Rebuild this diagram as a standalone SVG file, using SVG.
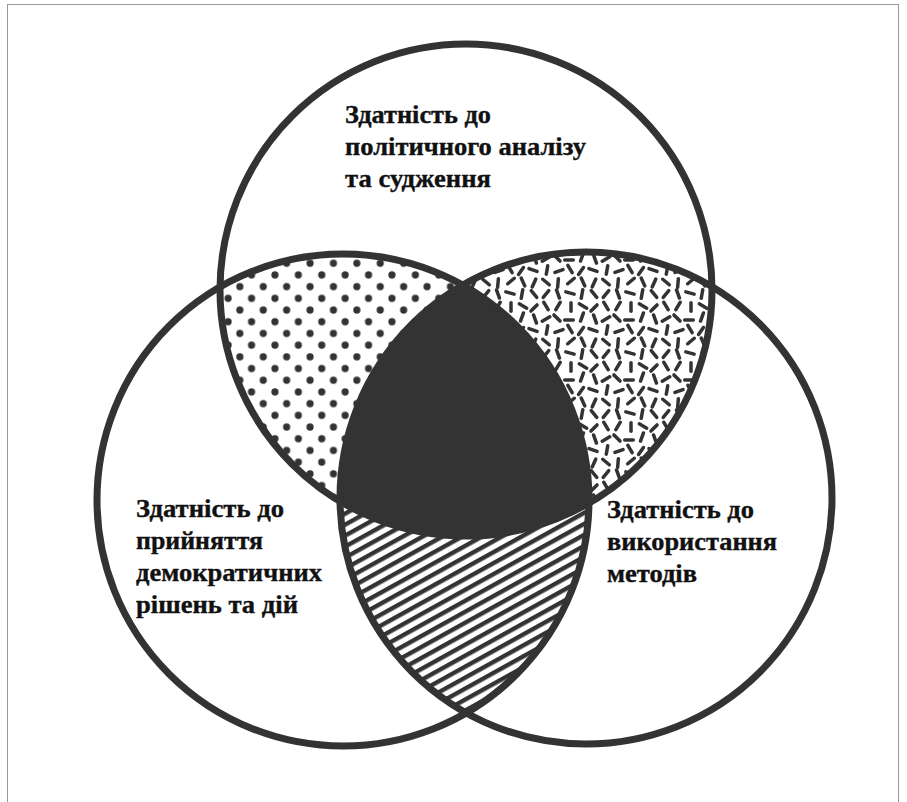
<svg xmlns="http://www.w3.org/2000/svg" xmlns:xlink="http://www.w3.org/1999/xlink" width="907" height="802" viewBox="0 0 907 802">
<style>
.ring{fill:none;stroke:#333;stroke-width:7}
.lbl{font-family:"Liberation Serif","DejaVu Serif",serif;font-weight:bold;font-size:24.5px;fill:#111;stroke:#111;stroke-width:0.35}
.dash{stroke:#333;stroke-width:3.5;stroke-linecap:round;fill:none}
</style>
<defs>
<clipPath id="cTop"><circle cx="466" cy="290" r="246"/></clipPath>
<clipPath id="cLeft"><circle cx="343" cy="500" r="246"/></clipPath>
<clipPath id="cRight"><circle cx="586" cy="498" r="246"/></clipPath>
<pattern id="dots" patternUnits="userSpaceOnUse" width="23.4" height="23.4">
<rect width="23.4" height="23.4" fill="#fff"/>
<circle cx="5.85" cy="5.85" r="3.6" fill="#333"/>
<circle cx="17.55" cy="17.55" r="3.6" fill="#333"/>
</pattern>
<pattern id="hatch" patternUnits="userSpaceOnUse" width="10" height="9.6" patternTransform="rotate(-29)">
<rect width="10" height="9.6" fill="#fff"/>
<rect width="10" height="4.4" fill="#333"/>
</pattern>
<path id="d" class="dash" d="M-4.3 0h8.6"/>
<pattern id="dashes" patternUnits="userSpaceOnUse" width="60" height="60">
<rect width="60" height="60" fill="#fff"/>
<use xlink:href="#d" transform="translate(6 6) rotate(60)"/>
<use xlink:href="#d" transform="translate(18 6) rotate(120)"/>
<use xlink:href="#d" transform="translate(31 7) rotate(90)"/>
<use xlink:href="#d" transform="translate(43 6) rotate(30)"/>
<use xlink:href="#d" transform="translate(54 8) rotate(135)"/>
<use xlink:href="#d" transform="translate(6 19) rotate(150)"/>
<use xlink:href="#d" transform="translate(17 18) rotate(45)"/>
<use xlink:href="#d" transform="translate(29 20) rotate(0)"/>
<use xlink:href="#d" transform="translate(42 17) rotate(110)"/>
<use xlink:href="#d" transform="translate(55 19) rotate(70)"/>
<use xlink:href="#d" transform="translate(7 30) rotate(100)"/>
<use xlink:href="#d" transform="translate(19 31) rotate(160)"/>
<use xlink:href="#d" transform="translate(30 29) rotate(60)"/>
<use xlink:href="#d" transform="translate(41 31) rotate(125)"/>
<use xlink:href="#d" transform="translate(53 30) rotate(20)"/>
<use xlink:href="#d" transform="translate(6 42) rotate(40)"/>
<use xlink:href="#d" transform="translate(18 43) rotate(95)"/>
<use xlink:href="#d" transform="translate(31 41) rotate(140)"/>
<use xlink:href="#d" transform="translate(43 42) rotate(65)"/>
<use xlink:href="#d" transform="translate(54 43) rotate(115)"/>
<use xlink:href="#d" transform="translate(6 54) rotate(130)"/>
<use xlink:href="#d" transform="translate(18 54) rotate(70)"/>
<use xlink:href="#d" transform="translate(30 53) rotate(15)"/>
<use xlink:href="#d" transform="translate(42 54) rotate(100)"/>
<use xlink:href="#d" transform="translate(54 54) rotate(50)"/>
</pattern>
</defs>
<rect width="907" height="802" fill="#fff"/>
<rect x="7.5" y="4.5" width="891" height="805" fill="none" stroke="#999" stroke-width="1"/>
<g id="overlaps">
<g clip-path="url(#cLeft)"><circle cx="466" cy="290" r="246" fill="url(#dots)"/></g>
<g clip-path="url(#cRight)"><circle cx="466" cy="290" r="246" fill="url(#dashes)"/></g>
<g clip-path="url(#cRight)"><circle cx="343" cy="500" r="246" fill="url(#hatch)"/></g>
<g clip-path="url(#cTop)"><g clip-path="url(#cLeft)"><circle cx="586" cy="498" r="246" fill="#333"/></g></g>
</g>
<g id="connectors"/>
<g id="node-analysis">
<circle class="ring" cx="466" cy="290" r="246"/>
<text class="lbl" x="345" y="123" textLength="146" lengthAdjust="spacingAndGlyphs">Здатність до</text>
<text class="lbl" x="345" y="155" textLength="241" lengthAdjust="spacingAndGlyphs">політичного аналізу</text>
<text class="lbl" x="345" y="187" textLength="146" lengthAdjust="spacingAndGlyphs">та судження</text>
</g>
<g id="node-decisions">
<circle class="ring" cx="343" cy="500" r="246"/>
<text class="lbl" x="136" y="517" textLength="148" lengthAdjust="spacingAndGlyphs">Здатність до</text>
<text class="lbl" x="136" y="549" textLength="127" lengthAdjust="spacingAndGlyphs">прийняття</text>
<text class="lbl" x="136" y="581" textLength="186" lengthAdjust="spacingAndGlyphs">демократичних</text>
<text class="lbl" x="136" y="613" textLength="162" lengthAdjust="spacingAndGlyphs">рішень та дій</text>
</g>
<g id="node-methods">
<circle class="ring" cx="586" cy="498" r="246"/>
<text class="lbl" x="607" y="518" textLength="147" lengthAdjust="spacingAndGlyphs">Здатність до</text>
<text class="lbl" x="607" y="550" textLength="170" lengthAdjust="spacingAndGlyphs">використання</text>
<text class="lbl" x="607" y="582" textLength="90" lengthAdjust="spacingAndGlyphs">методів</text>
</g>
</svg>
